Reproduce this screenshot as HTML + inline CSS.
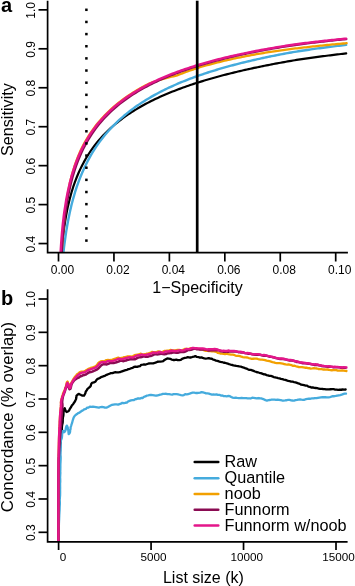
<!DOCTYPE html><html><head><meta charset="utf-8"><style>html,body{margin:0;padding:0;background:#fff;}svg{display:block;will-change:transform;}</style></head><body><svg width="355" height="586" viewBox="0 0 355 586">
<defs><clipPath id="ca"><rect x="47.6" y="0.7" width="300.3" height="252"/></clipPath><clipPath id="cb"><rect x="47.6" y="289.2" width="300" height="252.7"/></clipPath></defs>
<rect width="355" height="586" fill="#fff"/>
<g clip-path="url(#ca)" fill="none" stroke-linejoin="round" stroke-linecap="round">
<polyline points="61.40,253.98 61.55,251.99 61.72,249.97 61.89,247.94 62.08,245.88 62.27,243.81 62.48,241.71 62.70,239.59 62.94,237.45 63.19,235.29 63.45,233.11 63.73,230.91 64.02,228.69 64.34,226.45 66.11,215.50 67.88,206.63 69.66,199.16 71.43,192.69 73.20,186.98 74.97,181.87 76.75,177.25 78.52,173.02 80.29,169.12 82.07,165.51 83.84,162.15 85.61,159.00 87.38,156.05 89.16,153.26 90.93,150.62 92.70,148.11 94.47,145.73 96.25,143.46 98.02,141.29 99.79,139.22 101.57,137.23 103.34,135.31 105.11,133.48 106.88,131.71 108.66,130.00 110.43,128.36 112.20,126.76 113.97,125.23 115.75,123.74 117.52,122.29 119.29,120.89 121.06,119.53 122.84,118.21 124.61,116.93 126.38,115.68 128.16,114.46 129.93,113.28 131.70,112.13 133.47,111.00 135.25,109.90 137.02,108.83 138.79,107.79 140.56,106.77 142.34,105.77 144.11,104.79 145.88,103.84 147.66,102.90 149.43,101.99 151.20,101.09 152.97,100.21 154.75,99.35 156.52,98.51 158.29,97.68 160.06,96.87 161.84,96.08 163.61,95.30 165.38,94.53 167.16,93.78 168.93,93.04 170.70,92.31 172.47,91.60 174.25,90.90 176.02,90.21 177.79,89.53 179.56,88.86 181.34,88.20 183.11,87.56 184.88,86.92 186.66,86.30 188.43,85.68 190.20,85.08 191.97,84.48 193.75,83.89 195.52,83.31 197.29,82.74 199.06,82.18 200.84,81.62 202.61,81.08 204.38,80.54 206.16,80.00 207.93,79.48 209.70,78.96 211.47,78.45 213.25,77.95 215.02,77.45 216.79,76.96 218.56,76.48 220.34,76.00 222.11,75.53 223.88,75.06 225.66,74.60 227.43,74.15 229.20,73.70 230.97,73.26 232.75,72.82 234.52,72.39 236.29,71.96 238.06,71.54 239.84,71.12 241.61,70.71 243.38,70.30 245.16,69.90 246.93,69.50 248.70,69.11 250.47,68.72 252.25,68.33 254.02,67.95 255.79,67.58 257.56,67.21 259.34,66.84 261.11,66.47 262.88,66.11 264.66,65.76 266.43,65.40 268.20,65.05 269.97,64.71 271.75,64.37 273.52,64.03 275.29,63.69 277.06,63.36 278.84,63.03 280.61,62.71 282.38,62.38 284.15,62.07 285.93,61.75 287.70,61.44 289.47,61.13 291.25,60.82 293.02,60.52 294.79,60.22 296.56,59.94 298.34,59.68 300.11,59.41 301.88,59.15 303.65,58.89 305.43,58.64 307.20,58.38 308.97,58.13 310.75,57.88 312.52,57.63 314.29,57.39 316.06,57.15 317.84,56.91 319.61,56.67 321.38,56.44 323.15,56.21 324.93,55.98 326.70,55.75 328.47,55.52 330.25,55.30 332.02,55.08 333.79,54.86 335.56,54.64 337.34,54.43 339.11,54.22 340.88,54.00 342.65,53.80 344.43,53.59 346.20,53.38" stroke="#000000" stroke-width="2.2"/>
<polyline points="63.19,254.89 63.45,252.41 63.73,249.89 64.02,247.34 64.34,244.76 66.11,232.09 67.88,221.73 69.66,212.94 71.43,205.31 73.20,198.54 74.97,192.47 76.75,186.97 78.52,181.93 80.29,177.28 82.07,172.98 83.84,168.96 85.61,165.20 87.38,161.67 89.16,158.34 90.93,155.19 92.70,152.21 94.47,149.37 96.25,146.66 98.02,144.08 99.79,141.61 101.57,139.25 103.34,136.98 105.11,134.80 106.88,132.70 108.66,130.68 110.43,128.74 112.20,126.86 113.97,125.04 115.75,123.28 117.52,121.58 119.29,119.93 121.06,118.34 122.84,116.79 124.61,115.28 126.38,113.82 128.16,112.40 129.93,111.02 131.70,109.67 133.47,108.36 135.25,107.09 137.02,105.84 138.79,104.63 140.56,103.44 142.34,102.29 144.11,101.16 145.88,100.06 147.66,98.98 149.43,97.92 151.20,96.89 152.97,95.88 154.75,94.90 156.52,93.93 158.29,92.99 160.06,92.06 161.84,91.15 163.61,90.26 165.38,89.39 167.16,88.53 168.93,87.69 170.70,86.87 172.47,86.06 174.25,85.27 176.02,84.49 177.79,83.72 179.56,82.97 181.34,82.23 183.11,81.50 184.88,80.79 186.66,80.09 188.43,79.40 190.20,78.72 191.97,78.06 193.75,77.40 195.52,76.75 197.29,76.12 199.06,75.49 200.84,74.88 202.61,74.27 204.38,73.68 206.16,73.09 207.93,72.51 209.70,71.94 211.47,71.38 213.25,70.82 215.02,70.28 216.79,69.74 218.56,69.21 220.34,68.69 222.11,68.17 223.88,67.66 225.66,67.16 227.43,66.67 229.20,66.18 230.97,65.70 232.75,65.23 234.52,64.76 236.29,64.30 238.06,63.84 239.84,63.39 241.61,62.95 243.38,62.51 245.16,62.08 246.93,61.65 248.70,61.23 250.47,60.81 252.25,60.40 254.02,59.99 255.79,59.59 257.56,59.19 259.34,58.80 261.11,58.42 262.88,58.03 264.66,57.65 266.43,57.28 268.20,56.91 269.97,56.55 271.75,56.19 273.52,55.83 275.29,55.48 277.06,55.13 278.84,54.78 280.61,54.44 282.38,54.11 284.15,53.77 285.93,53.44 287.70,53.12 289.47,52.79 291.25,52.48 293.02,52.16 294.79,51.85 296.56,51.56 298.34,51.29 300.11,51.01 301.88,50.74 303.65,50.47 305.43,50.21 307.20,49.95 308.97,49.69 310.75,49.43 312.52,49.18 314.29,48.93 316.06,48.68 317.84,48.43 319.61,48.19 321.38,47.95 323.15,47.72 324.93,47.48 326.70,47.25 328.47,47.02 330.25,46.79 332.02,46.57 333.79,46.35 335.56,46.13 337.34,45.91 339.11,45.70 340.88,45.49 342.65,45.28 344.43,45.07 346.20,44.86" stroke="#45ABDD" stroke-width="2.4"/>
<polyline points="61.61,255.55 61.70,253.69 61.80,251.81 61.90,249.90 62.01,247.98 62.13,246.03 62.25,244.06 62.38,242.06 62.52,240.05 62.67,238.01 62.83,235.94 62.99,233.86 63.17,231.75 63.36,229.62 63.55,227.47 63.76,225.30 63.98,223.10 64.22,220.88 64.47,218.64 64.73,216.38 65.01,214.09 65.27,211.79 66.75,200.44 68.23,191.23 69.71,183.43 71.37,176.70 73.06,170.75 74.76,165.43 76.46,160.60 78.17,156.18 79.88,152.11 81.66,148.36 83.44,144.87 85.22,141.61 87.00,138.55 88.78,135.66 90.56,132.93 92.34,130.35 94.12,127.89 95.90,125.55 97.68,123.32 99.46,121.19 101.24,119.14 103.02,117.18 104.80,115.30 106.58,113.49 108.36,111.75 110.14,110.07 111.92,108.45 113.70,106.88 115.47,105.37 117.25,103.90 119.03,102.48 120.81,101.11 122.59,99.77 124.37,98.48 126.14,97.22 127.92,96.00 129.70,94.81 131.48,93.65 133.26,92.52 135.03,91.43 136.81,90.36 138.59,89.31 140.36,88.29 142.14,87.30 143.92,86.33 145.69,85.38 147.47,84.46 149.25,83.55 151.09,82.80 152.96,82.14 154.83,81.49 156.70,80.87 158.56,80.26 160.42,79.68 162.28,79.10 164.13,78.55 165.99,78.03 167.86,77.58 169.74,77.14 171.61,76.72 173.48,76.31 175.34,75.92 177.13,75.36 178.87,74.67 180.62,73.99 182.36,73.33 184.10,72.68 185.85,72.03 187.59,71.40 189.34,70.78 191.09,70.16 192.84,69.56 194.58,68.97 196.33,68.38 198.08,67.80 199.84,67.26 201.61,66.75 203.37,66.24 205.14,65.74 206.90,65.25 208.67,64.77 210.43,64.30 212.20,63.83 213.96,63.37 215.73,62.91 217.50,62.47 219.26,62.03 221.03,61.59 222.79,61.16 224.56,60.74 226.33,60.32 228.09,59.91 229.86,59.51 231.63,59.12 233.40,58.74 235.17,58.36 236.94,57.99 238.71,57.63 240.48,57.27 242.25,56.91 244.02,56.56 245.79,56.21 247.56,55.87 249.33,55.54 251.10,55.20 252.86,54.88 254.63,54.55 256.40,54.24 258.17,53.92 259.94,53.61 261.72,53.31 263.49,53.03 265.26,52.74 267.04,52.47 268.81,52.19 270.58,51.92 272.35,51.65 274.13,51.39 275.90,51.13 277.67,50.87 279.44,50.62 281.22,50.36 282.99,50.12 284.76,49.87 286.53,49.63 288.31,49.39 290.08,49.16 291.85,48.93 293.62,48.70 295.39,48.48 297.17,48.28 298.94,48.09 300.71,47.90 302.48,47.69 304.25,47.48 306.02,47.27 307.79,47.07 309.55,46.87 311.32,46.67 313.09,46.48 314.86,46.28 316.63,46.09 318.40,45.90 320.17,45.72 321.94,45.53 323.71,45.35 325.48,45.17 327.25,44.99 329.01,44.82 330.78,44.65 332.55,44.48 334.32,44.31 336.09,44.14 337.86,43.98 339.63,43.81 341.40,43.65 343.17,43.49 344.94,43.34 346.71,43.17" stroke="#F2A000" stroke-width="2.3"/>
<polyline points="61.63,255.55 61.72,253.69 61.83,251.81 61.94,249.91 62.05,247.98 62.18,246.03 62.31,244.06 62.45,242.07 62.59,240.05 62.75,238.01 62.91,235.95 63.09,233.87 63.27,231.76 63.47,229.63 63.68,227.48 63.90,225.31 64.13,223.12 64.38,220.90 64.64,218.66 64.92,216.40 65.21,214.12 65.52,211.83 67.29,200.54 69.06,191.40 70.82,183.70 72.58,177.04 74.35,171.16 76.11,165.90 77.87,161.14 79.63,156.79 81.38,152.79 83.14,149.09 84.90,145.64 86.66,142.42 88.41,139.39 90.17,136.54 91.93,133.85 93.68,131.29 95.44,128.87 97.19,126.56 98.95,124.35 100.71,122.25 102.46,120.22 104.21,118.28 105.96,116.42 107.71,114.63 109.47,112.90 111.22,111.23 112.97,109.62 114.73,108.07 116.48,106.57 118.23,105.11 119.99,103.70 121.74,102.33 123.50,101.01 125.26,99.72 127.01,98.46 128.77,97.25 130.53,96.06 132.29,94.91 134.04,93.78 135.80,92.69 137.56,91.62 139.32,90.58 141.08,89.56 142.84,88.57 144.60,87.60 146.36,86.65 148.12,85.72 149.89,84.82 151.65,83.93 153.41,83.06 155.17,82.21 156.93,81.38 158.70,80.56 160.46,79.77 162.22,78.98 163.99,78.22 165.75,77.46 167.52,76.73 169.28,76.00 171.04,75.29 172.81,74.59 174.57,73.91 176.34,73.24 178.10,72.58 179.87,71.93 181.64,71.29 183.40,70.66 185.17,70.04 186.93,69.44 188.70,68.84 190.47,68.26 192.23,67.68 194.00,67.11 195.77,66.55 197.54,66.00 199.30,65.46 201.07,64.93 202.84,64.40 204.61,63.89 206.37,63.38 208.14,62.88 209.91,62.38 211.68,61.90 213.45,61.42 215.21,60.94 216.98,60.48 218.75,60.02 220.52,59.56 222.29,59.12 224.06,58.67 225.83,58.24 227.59,57.81 229.36,57.39 231.13,56.97 232.90,56.56 234.67,56.15 236.44,55.75 238.21,55.35 239.98,54.96 241.75,54.58 243.52,54.20 245.29,53.82 247.06,53.45 248.83,53.08 250.60,52.72 252.37,52.36 254.14,52.00 255.91,51.65 257.68,51.31 259.45,50.97 261.22,50.63 262.99,50.30 264.76,49.98 266.53,49.66 268.30,49.34 270.07,49.03 271.85,48.72 273.62,48.41 275.39,48.11 277.16,47.81 278.93,47.51 280.70,47.22 282.47,46.93 284.25,46.64 286.02,46.36 287.79,46.08 289.56,45.80 291.33,45.53 293.10,45.26 294.87,44.99 296.65,44.75 298.42,44.51 300.19,44.28 301.96,44.05 303.73,43.83 305.50,43.60 307.28,43.38 309.05,43.16 310.82,42.95 312.59,42.73 314.36,42.52 316.13,42.31 317.91,42.10 319.68,41.90 321.45,41.70 323.22,41.50 324.99,41.30 326.76,41.11 328.54,40.91 330.31,40.72 332.08,40.53 333.85,40.35 335.62,40.16 337.40,39.98 339.17,39.80 340.94,39.62 342.71,39.45 344.48,39.27 346.26,39.09" stroke="#8A0B52" stroke-width="2.3"/>
<polyline points="60.43,255.49 60.53,253.63 60.63,251.74 60.74,249.84 60.86,247.91 60.98,245.95 61.11,243.98 61.25,241.98 61.40,239.96 61.55,237.92 61.72,235.85 61.89,233.77 62.08,231.66 62.27,229.52 62.48,227.37 62.70,225.19 62.94,222.99 63.19,220.76 63.45,218.52 63.73,216.25 64.02,213.96 64.34,211.65 66.11,200.33 67.88,191.16 69.66,183.42 71.43,176.71 73.20,170.80 74.97,165.50 76.75,160.71 78.52,156.32 80.29,152.29 82.07,148.56 83.84,145.08 85.61,141.83 87.38,138.78 89.16,135.90 90.93,133.18 92.70,130.60 94.47,128.15 96.25,125.82 98.02,123.60 99.79,121.47 101.57,119.43 103.34,117.48 105.11,115.60 106.88,113.80 108.66,112.06 110.43,110.38 112.20,108.77 113.97,107.20 115.75,105.69 117.52,104.23 119.29,102.82 121.06,101.44 122.84,100.11 124.61,98.82 126.38,97.56 128.16,96.34 129.93,95.15 131.70,94.00 133.47,92.87 135.25,91.78 137.02,90.71 138.79,89.66 140.56,88.65 142.34,87.66 144.11,86.69 145.88,85.74 147.66,84.81 149.43,83.91 151.20,83.02 152.97,82.16 154.75,81.31 156.52,80.48 158.29,79.67 160.06,78.88 161.84,78.10 163.61,77.33 165.38,76.58 167.16,75.85 168.93,75.13 170.70,74.42 172.47,73.73 174.25,73.05 176.02,72.38 177.79,71.72 179.56,71.08 181.34,70.44 183.11,69.82 184.88,69.21 186.66,68.61 188.43,68.02 190.20,67.44 191.97,66.86 193.75,66.30 195.52,65.75 197.29,65.20 199.06,64.67 200.84,64.14 202.61,63.62 204.38,63.11 206.16,62.61 207.93,62.11 209.70,61.62 211.47,61.14 213.25,60.67 215.02,60.20 216.79,59.74 218.56,59.28 220.34,58.84 222.11,58.40 223.88,57.96 225.66,57.53 227.43,57.11 229.20,56.69 230.97,56.28 232.75,55.87 234.52,55.47 236.29,55.08 238.06,54.69 239.84,54.30 241.61,53.92 243.38,53.55 245.16,53.18 246.93,52.81 248.70,52.45 250.47,52.09 252.25,51.74 254.02,51.39 255.79,51.05 257.56,50.71 259.34,50.38 261.11,50.04 262.88,49.72 264.66,49.39 266.43,49.08 268.20,48.76 269.97,48.45 271.75,48.14 273.52,47.83 275.29,47.53 277.06,47.24 278.84,46.94 280.61,46.65 282.38,46.36 284.15,46.08 285.93,45.80 287.70,45.52 289.47,45.24 291.25,44.97 293.02,44.70 294.79,44.43 296.56,44.20 298.34,43.96 300.11,43.73 301.88,43.51 303.65,43.28 305.43,43.06 307.20,42.84 308.97,42.62 310.75,42.41 312.52,42.20 314.29,41.99 316.06,41.78 317.84,41.58 319.61,41.37 321.38,41.17 323.15,40.98 324.93,40.78 326.70,40.59 328.47,40.40 330.25,40.21 332.02,40.02 333.79,39.84 335.56,39.65 337.34,39.47 339.11,39.29 340.88,39.12 342.65,38.94 344.43,38.77 346.20,38.60" stroke="#E4168A" stroke-width="2.4"/>
</g>
<g fill="#000"><rect x="85.15" y="8.55" width="2.5" height="2.5"/><rect x="85.15" y="20.70" width="2.5" height="2.5"/><rect x="85.15" y="32.84" width="2.5" height="2.5"/><rect x="85.15" y="44.99" width="2.5" height="2.5"/><rect x="85.15" y="57.14" width="2.5" height="2.5"/><rect x="85.15" y="69.28" width="2.5" height="2.5"/><rect x="85.15" y="81.43" width="2.5" height="2.5"/><rect x="85.15" y="93.58" width="2.5" height="2.5"/><rect x="85.15" y="105.73" width="2.5" height="2.5"/><rect x="85.15" y="117.87" width="2.5" height="2.5"/><rect x="85.15" y="130.02" width="2.5" height="2.5"/><rect x="85.15" y="142.17" width="2.5" height="2.5"/><rect x="85.15" y="154.31" width="2.5" height="2.5"/><rect x="85.15" y="166.46" width="2.5" height="2.5"/><rect x="85.15" y="178.61" width="2.5" height="2.5"/><rect x="85.15" y="190.76" width="2.5" height="2.5"/><rect x="85.15" y="202.90" width="2.5" height="2.5"/><rect x="85.15" y="215.05" width="2.5" height="2.5"/><rect x="85.15" y="227.20" width="2.5" height="2.5"/><rect x="85.15" y="239.34" width="2.5" height="2.5"/></g>
<line x1="197.2" y1="0.7" x2="197.2" y2="252.7" stroke="#000" stroke-width="2.7"/>
<g stroke="#000" stroke-width="1.7" fill="none">
<polyline points="47.6,0.7 47.6,252.7 347.9,252.7"/>
<line x1="38.5" y1="9.85" x2="47.6" y2="9.85"/>
<line x1="38.5" y1="48.80" x2="47.6" y2="48.80"/>
<line x1="38.5" y1="87.75" x2="47.6" y2="87.75"/>
<line x1="38.5" y1="126.70" x2="47.6" y2="126.70"/>
<line x1="38.5" y1="165.65" x2="47.6" y2="165.65"/>
<line x1="38.5" y1="204.60" x2="47.6" y2="204.60"/>
<line x1="38.5" y1="243.55" x2="47.6" y2="243.55"/>
<line x1="58.50" y1="252.7" x2="58.50" y2="261.5"/>
<line x1="113.94" y1="252.7" x2="113.94" y2="261.5"/>
<line x1="169.38" y1="252.7" x2="169.38" y2="261.5"/>
<line x1="224.82" y1="252.7" x2="224.82" y2="261.5"/>
<line x1="280.26" y1="252.7" x2="280.26" y2="261.5"/>
<line x1="335.70" y1="252.7" x2="335.70" y2="261.5"/>
</g>
<g font-family="Liberation Sans, sans-serif" font-size="12" fill="#000">
<text transform="translate(35,10.35) rotate(-90)" text-anchor="middle">1.0</text>
<text transform="translate(35,49.30) rotate(-90)" text-anchor="middle">0.9</text>
<text transform="translate(35,88.25) rotate(-90)" text-anchor="middle">0.8</text>
<text transform="translate(35,127.20) rotate(-90)" text-anchor="middle">0.7</text>
<text transform="translate(35,166.15) rotate(-90)" text-anchor="middle">0.6</text>
<text transform="translate(35,205.10) rotate(-90)" text-anchor="middle">0.5</text>
<text transform="translate(35,244.05) rotate(-90)" text-anchor="middle">0.4</text>
<text x="62.50" y="274.2" text-anchor="middle">0.00</text>
<text x="117.94" y="274.2" text-anchor="middle">0.02</text>
<text x="173.38" y="274.2" text-anchor="middle">0.04</text>
<text x="228.82" y="274.2" text-anchor="middle">0.06</text>
<text x="284.26" y="274.2" text-anchor="middle">0.08</text>
<text x="339.70" y="274.2" text-anchor="middle">0.10</text>
</g>
<g font-family="Liberation Sans, sans-serif" font-size="16" fill="#000">
<text x="197.5" y="293" text-anchor="middle">1−Specificity</text>
<text transform="translate(12.5,119.6) rotate(-90)" text-anchor="middle" font-size="16.2">Sensitivity</text>
</g>
<text x="1" y="11.6" font-family="Liberation Sans, sans-serif" font-size="20" font-weight="bold">a</text>
<g clip-path="url(#cb)" fill="none" stroke-linejoin="round" stroke-linecap="round">
<polyline points="58.41,541.90 58.42,540.40 58.41,538.90 58.41,537.40 58.41,535.90 58.42,534.40 58.42,532.90 58.42,531.40 58.43,529.90 58.43,528.40 58.44,526.90 58.43,525.40 58.43,523.90 58.42,522.40 58.44,520.90 58.44,519.40 58.45,517.90 58.44,516.40 58.44,514.90 58.44,513.40 58.45,511.90 58.47,510.40 58.49,508.90 58.47,507.40 58.44,505.90 58.44,504.40 58.47,502.90 58.50,501.40 58.51,499.90 58.55,498.40 58.55,496.90 58.55,495.40 58.56,493.90 58.60,492.40 58.63,490.90 58.62,489.40 58.61,487.90 58.63,486.40 58.66,484.90 58.70,483.40 58.71,481.90 58.74,480.40 58.79,478.90 58.83,477.40 58.88,475.90 58.94,474.40 58.98,472.91 59.05,471.41 59.12,469.91 59.20,468.41 59.22,466.91 59.28,465.41 59.32,463.91 59.43,462.41 59.44,460.91 59.55,459.42 59.59,457.92 59.65,456.42 59.68,454.92 59.76,453.42 59.91,451.93 59.98,450.43 60.02,448.93 60.12,447.43 60.24,445.93 60.42,444.44 60.56,442.95 60.60,441.45 60.72,439.95 60.86,438.46 61.08,436.97 61.15,435.47 61.27,433.98 61.46,432.49 61.75,431.01 61.83,429.51 61.86,428.01 61.95,426.51 62.13,425.02 62.51,423.55 62.72,422.07 62.78,420.56 62.74,419.05 62.94,417.57 63.29,416.09 63.46,414.60 63.49,413.10 63.60,411.60 63.88,410.13 64.18,408.71 64.65,408.16 65.13,409.47 65.74,410.84 66.62,412.03 67.97,411.45 69.05,410.53 69.70,409.23 70.51,407.98 71.27,406.68 71.94,405.32 73.09,404.27 73.80,402.94 74.74,401.73 75.43,400.37 76.08,399.01 76.34,397.51 76.48,395.89 77.52,394.73 78.69,393.81 79.90,394.43 81.22,395.09 82.54,395.60 84.04,395.63 84.83,394.26 85.45,392.90 85.82,391.39 86.79,390.23 87.51,388.88 88.73,387.94 89.90,386.97 90.79,385.76 91.16,384.08 91.99,382.78 93.84,382.47 95.21,381.81 96.10,380.54 97.10,379.29 98.42,378.57 99.83,378.01 101.02,377.04 102.54,376.69 103.89,376.04 105.33,375.58 106.65,374.85 108.06,374.29 109.47,373.75 110.89,373.18 112.42,373.10 113.84,372.58 115.30,372.24 116.85,372.32 118.38,372.28 119.91,372.20 121.29,371.56 122.71,371.05 124.13,370.57 125.56,370.10 127.04,369.83 128.40,369.15 129.87,368.83 131.25,368.19 132.70,367.81 134.03,366.97 135.49,366.62 137.12,366.89 138.54,366.42 140.03,366.15 141.21,364.83 142.74,364.71 144.23,364.49 145.81,364.55 147.22,364.01 148.63,363.48 150.14,363.34 151.67,363.29 153.21,363.38 154.64,362.97 156.05,362.42 157.47,361.75 158.95,361.53 160.46,361.53 161.95,361.34 163.42,361.01 164.51,359.93 165.80,359.17 167.21,358.45 168.78,358.64 170.27,358.91 171.69,359.55 173.17,360.02 174.68,360.00 176.20,359.56 177.70,360.10 179.24,360.19 180.78,359.96 182.10,358.86 183.48,358.30 184.90,357.78 186.41,357.57 187.87,357.13 189.45,357.50 190.94,357.52 192.41,356.96 193.90,356.67 195.41,356.11 196.92,356.91 198.41,357.06 199.86,357.66 201.40,357.38 202.85,357.88 204.30,358.34 205.78,358.53 207.30,358.46 208.87,358.19 210.30,358.70 211.84,358.77 213.14,359.68 214.63,359.97 215.99,360.63 217.49,360.85 218.90,361.38 220.33,361.82 221.83,362.03 223.24,362.53 224.74,362.76 226.18,363.17 227.63,363.54 229.04,364.07 230.47,364.52 231.93,364.85 233.35,365.37 234.84,365.61 236.30,365.96 237.82,366.03 239.29,366.35 240.80,366.55 242.18,367.19 243.65,367.53 245.05,368.09 246.48,368.54 247.81,369.29 249.22,369.82 250.78,369.86 252.21,370.33 253.59,370.91 254.99,371.48 256.39,372.00 257.87,372.29 259.29,372.79 260.76,373.10 262.17,373.61 263.55,374.25 265.07,374.37 266.42,375.10 267.91,375.36 269.35,375.77 270.86,375.96 272.29,376.38 273.66,377.08 275.15,377.30 276.59,377.73 278.05,378.10 279.51,378.41 280.93,378.91 282.41,379.18 283.87,379.55 285.34,379.84 286.75,380.38 288.17,380.88 289.66,381.12 291.10,381.54 292.61,381.69 294.07,382.07 295.54,382.38 296.97,382.86 298.36,383.45 299.80,383.87 301.13,384.65 302.61,384.93 304.08,385.24 305.55,385.55 307.06,385.69 308.36,386.65 309.86,386.86 311.25,387.48 312.80,387.47 314.24,387.87 315.75,387.98 317.23,388.18 318.70,388.52 320.16,388.90 321.67,388.92 323.17,389.01 324.67,389.06 326.15,389.29 327.65,389.34 329.15,389.45 330.66,389.23 332.16,389.20 333.65,389.21 335.15,389.59 336.65,389.65 338.15,389.89 339.65,389.75 341.15,389.75 342.65,389.51 344.15,389.56 345.65,389.50" stroke="#000000" stroke-width="2.3"/>
<polyline points="58.40,541.90 58.44,540.40 58.45,538.90 58.52,537.40 58.58,535.90 58.65,534.40 58.68,532.90 58.71,531.40 58.75,529.91 58.80,528.41 58.84,526.91 58.89,525.41 58.90,523.91 58.97,522.41 59.03,520.91 59.12,519.41 59.16,517.91 59.24,516.41 59.27,514.91 59.38,513.42 59.45,511.92 59.56,510.42 59.62,508.92 59.64,507.42 59.72,505.93 59.84,504.43 59.86,502.93 59.81,501.43 59.70,499.92 59.84,498.43 59.94,496.93 60.08,495.43 60.10,493.93 60.13,492.43 60.12,490.93 60.10,489.43 60.15,487.93 60.10,486.43 60.10,484.93 60.09,483.43 60.24,481.93 60.24,480.43 60.20,478.93 60.10,477.43 60.20,475.93 60.25,474.43 60.36,472.93 60.24,471.43 60.33,469.93 60.34,468.43 60.38,466.93 60.35,465.43 60.39,463.93 60.49,462.43 60.55,460.93 60.64,459.43 60.68,457.94 60.64,456.43 60.49,454.93 60.54,453.43 60.58,451.93 60.65,450.43 60.65,448.93 60.74,447.44 60.73,445.93 60.69,444.43 60.56,442.92 60.79,441.43 61.04,439.94 61.68,438.54 61.95,437.06 62.08,435.56 62.16,434.06 62.33,432.57 62.54,431.05 63.51,430.85 64.12,432.23 65.07,431.35 65.65,429.92 65.81,428.41 66.11,426.93 66.78,425.58 67.44,426.65 67.72,428.12 68.08,429.58 68.41,431.05 68.51,432.55 68.70,434.08 69.54,433.40 70.09,431.96 70.12,430.43 70.58,429.00 70.58,427.45 71.08,426.03 71.49,424.59 72.01,423.18 72.39,421.72 72.77,420.25 73.24,418.81 73.73,417.33 74.59,416.04 75.64,414.92 76.97,414.05 78.12,413.11 79.50,412.58 80.61,411.74 81.80,410.87 83.10,410.16 84.36,409.27 85.87,408.98 86.97,407.72 88.51,407.59 89.86,406.54 91.43,406.87 92.93,406.65 94.44,406.89 95.95,407.10 97.44,407.37 98.93,407.69 100.44,407.04 101.97,406.96 103.44,407.16 104.92,407.65 106.48,407.62 107.88,407.00 109.20,406.20 110.56,405.45 111.97,404.90 113.43,404.53 114.91,404.29 116.50,404.47 118.09,404.62 119.49,404.06 120.94,403.66 122.28,402.84 123.92,403.24 125.34,402.73 126.86,402.61 128.12,401.46 129.52,400.89 130.94,400.42 132.42,400.16 133.95,400.03 135.26,399.17 136.77,399.00 138.12,398.27 139.80,398.65 141.17,397.99 142.75,398.00 143.93,396.78 145.41,396.48 146.71,395.57 148.23,395.41 149.70,395.01 151.23,394.97 152.74,395.09 154.24,395.27 155.73,395.55 157.23,395.52 158.74,395.05 160.18,394.65 161.59,394.39 162.98,393.78 164.58,393.87 166.11,393.77 167.62,394.17 169.12,394.21 170.62,394.42 172.12,394.55 173.62,394.14 175.13,394.10 176.63,394.21 178.12,394.37 179.57,394.74 180.98,395.20 182.44,395.43 183.85,395.03 185.13,394.23 186.76,394.37 188.23,394.06 189.68,393.74 191.08,393.06 192.55,392.69 194.07,392.67 195.61,393.00 197.11,393.00 198.59,392.92 200.07,392.71 201.60,392.22 203.09,392.49 204.58,392.76 206.00,393.37 207.51,393.41 209.00,393.59 210.43,394.22 211.89,394.61 213.42,394.49 214.92,394.61 216.46,394.42 217.90,394.95 219.44,394.78 220.85,395.54 222.37,395.50 223.80,396.09 225.29,396.20 226.80,396.29 228.40,395.97 229.89,396.16 231.24,397.02 232.66,397.65 234.15,397.90 235.67,397.74 237.16,397.93 238.66,398.04 240.16,398.16 241.67,397.86 243.17,398.02 244.67,398.22 246.17,398.17 247.66,398.39 249.16,398.29 250.65,398.48 252.18,397.77 253.68,397.81 255.17,398.06 256.66,398.37 258.18,398.02 259.67,398.25 261.17,398.40 262.63,398.85 264.06,399.40 265.47,400.12 266.95,400.57 268.53,400.15 270.05,400.00 271.58,399.53 273.07,399.71 274.58,399.54 276.07,399.79 277.58,399.56 279.07,399.84 280.56,400.13 282.05,400.48 283.54,400.57 285.05,400.45 286.55,400.25 288.06,399.84 289.55,399.94 291.05,400.27 292.55,400.51 294.06,400.59 295.53,400.14 297.01,399.92 298.49,399.54 299.98,399.40 301.51,399.65 303.03,399.79 304.53,399.74 305.99,399.20 307.47,398.92 308.95,398.69 310.47,398.75 311.94,398.42 313.45,398.45 314.92,398.08 316.43,398.07 317.90,397.78 319.39,397.55 320.87,397.32 322.36,397.24 323.87,397.25 325.38,397.21 326.91,397.33 328.42,397.28 329.90,397.01 331.36,396.67 332.81,396.22 334.33,396.24 335.81,395.98 337.28,395.64 338.74,395.30 340.23,395.09 341.67,394.64 343.10,394.14 344.52,393.66 346.07,393.72" stroke="#45ABDD" stroke-width="2.3"/>
<polyline points="58.38,541.90 58.38,540.40 58.39,538.90 58.42,537.40 58.42,535.90 58.41,534.40 58.40,532.90 58.41,531.40 58.43,529.90 58.44,528.40 58.42,526.90 58.40,525.40 58.41,523.90 58.43,522.40 58.42,520.90 58.41,519.40 58.39,517.90 58.41,516.40 58.40,514.90 58.41,513.40 58.42,511.90 58.43,510.40 58.43,508.90 58.43,507.40 58.44,505.90 58.43,504.40 58.43,502.90 58.41,501.40 58.43,499.90 58.42,498.40 58.43,496.90 58.43,495.40 58.44,493.90 58.44,492.40 58.43,490.90 58.43,489.40 58.43,487.90 58.44,486.40 58.44,484.90 58.47,483.40 58.47,481.90 58.47,480.40 58.46,478.90 58.45,477.40 58.47,475.90 58.47,474.40 58.47,472.90 58.47,471.40 58.47,469.90 58.51,468.40 58.51,466.90 58.53,465.40 58.51,463.90 58.53,462.40 58.52,460.90 58.56,459.40 58.58,457.90 58.64,456.40 58.65,454.90 58.67,453.40 58.68,451.90 58.69,450.40 58.71,448.90 58.75,447.40 58.79,445.90 58.84,444.40 58.85,442.90 58.91,441.40 58.95,439.90 59.00,438.41 59.05,436.91 59.12,435.41 59.17,433.91 59.25,432.41 59.28,430.91 59.33,429.41 59.34,427.91 59.48,426.41 59.58,424.92 59.67,423.42 59.67,421.92 59.78,420.42 59.86,418.92 59.94,417.43 60.04,415.93 60.13,414.43 60.28,412.94 60.35,411.44 60.50,409.95 60.62,408.45 60.82,406.96 60.94,405.47 60.99,403.97 60.91,402.45 61.08,400.96 61.32,399.47 61.72,398.01 62.07,396.55 62.58,395.13 63.02,393.69 63.58,392.30 64.22,390.95 64.76,389.55 65.22,388.13 65.77,386.72 66.23,385.29 66.43,383.79 66.83,382.37 67.57,381.51 68.08,382.86 68.69,384.22 69.15,385.65 69.76,387.03 70.32,385.71 70.61,384.24 71.24,382.87 72.06,381.57 72.75,380.24 73.45,378.93 74.31,377.74 75.10,376.51 76.16,375.48 77.05,374.18 78.36,373.41 79.52,372.38 80.93,371.74 82.50,371.57 83.99,371.31 85.36,370.72 86.61,369.89 87.91,369.14 89.24,368.57 90.57,367.97 92.01,367.52 93.51,367.16 94.94,366.55 96.26,365.68 97.30,364.49 98.19,363.19 99.34,362.22 100.63,361.43 102.15,361.18 103.67,361.28 105.04,360.81 106.44,360.04 107.95,359.98 109.48,360.10 110.98,360.00 112.45,359.62 113.89,359.12 115.34,358.69 116.75,357.99 118.21,357.62 119.83,358.31 121.30,357.97 122.79,357.80 124.19,357.07 125.69,356.93 127.14,356.51 128.64,356.38 130.18,356.50 131.73,356.63 133.15,356.05 134.52,355.20 135.97,354.79 137.45,354.57 138.95,354.43 140.36,353.73 141.95,354.15 143.49,354.30 145.00,354.25 146.45,353.77 147.95,353.65 149.37,353.07 150.79,352.47 152.19,351.80 153.80,352.25 155.29,352.08 156.78,351.86 158.23,351.44 159.78,351.69 161.32,352.06 162.79,351.79 164.21,350.99 165.72,350.99 167.20,350.76 168.71,350.73 170.16,350.01 171.68,350.24 173.20,350.51 174.70,350.51 176.18,350.12 177.67,349.92 179.16,349.79 180.71,350.28 182.20,350.04 183.66,349.56 185.10,348.80 186.62,348.97 188.13,349.00 189.60,348.64 191.06,348.09 192.57,348.07 194.11,348.65 195.61,348.58 197.08,348.84 198.58,348.96 200.05,349.25 201.56,349.31 203.00,349.75 204.40,350.48 205.84,350.94 207.37,350.92 208.86,351.06 210.37,351.14 211.86,351.32 213.41,351.21 214.88,351.53 216.35,351.81 217.69,352.79 219.17,353.04 220.59,353.57 222.12,353.58 223.60,353.85 225.07,354.11 226.67,353.73 228.14,354.07 229.62,354.29 231.10,354.53 232.62,354.58 234.08,354.91 235.48,355.59 236.95,355.89 238.47,355.90 239.96,356.11 241.38,356.70 242.83,357.10 244.30,357.38 245.83,357.36 247.32,357.50 248.76,358.02 250.21,358.43 251.68,358.78 253.20,358.73 254.73,358.65 256.25,358.63 257.72,358.99 259.16,359.47 260.65,359.68 262.19,359.54 263.67,359.80 265.13,360.17 266.57,360.66 268.05,360.86 269.51,361.23 270.97,361.61 272.41,362.09 273.87,362.46 275.31,362.89 276.79,363.12 278.31,363.16 279.83,363.19 281.31,363.40 282.79,363.67 284.25,364.04 285.70,364.41 287.19,364.60 288.74,364.49 290.21,364.77 291.66,365.17 293.06,365.85 294.62,365.71 296.04,366.27 297.50,366.57 298.93,367.07 300.47,367.04 301.96,367.23 303.44,367.49 304.92,367.73 306.42,367.72 307.89,368.10 309.38,368.25 310.87,368.54 312.38,368.46 313.90,368.21 315.39,368.41 316.89,368.50 318.35,368.99 319.85,369.08 321.35,369.15 322.82,369.48 324.33,369.51 325.82,369.65 327.33,369.51 328.82,369.75 330.30,370.10 331.79,370.24 333.30,370.07 334.80,370.20 336.30,370.20 337.78,370.66 339.29,370.55 340.78,370.66 342.29,370.44 343.79,370.57 345.28,370.85 346.78,370.99" stroke="#F2A000" stroke-width="2.3"/>
<polyline points="58.38,541.90 58.38,540.40 58.39,538.90 58.41,537.40 58.42,535.90 58.41,534.40 58.39,532.90 58.39,531.40 58.41,529.90 58.42,528.40 58.40,526.90 58.38,525.40 58.39,523.90 58.40,522.40 58.39,520.90 58.38,519.40 58.37,517.90 58.37,516.40 58.37,514.90 58.37,513.40 58.38,511.90 58.39,510.40 58.39,508.90 58.39,507.40 58.39,505.90 58.38,504.40 58.38,502.90 58.36,501.40 58.38,499.90 58.37,498.40 58.38,496.90 58.38,495.40 58.39,493.90 58.39,492.40 58.38,490.90 58.38,489.40 58.38,487.90 58.39,486.40 58.39,484.90 58.42,483.40 58.43,481.90 58.43,480.40 58.43,478.90 58.42,477.40 58.44,475.90 58.45,474.40 58.45,472.90 58.46,471.40 58.47,469.90 58.52,468.40 58.53,466.90 58.57,465.40 58.57,463.90 58.61,462.40 58.63,460.90 58.70,459.40 58.77,457.90 58.88,456.41 58.94,454.91 59.04,453.41 59.10,451.91 59.17,450.42 59.25,448.92 59.37,447.42 59.47,445.93 59.57,444.43 59.62,442.93 59.75,441.43 59.84,439.94 59.95,438.44 60.05,436.94 60.19,435.45 60.28,433.95 60.44,432.46 60.50,430.96 60.60,429.46 60.59,427.96 60.85,426.48 61.02,424.98 61.16,423.49 61.13,421.98 61.30,420.49 61.41,419.00 61.51,417.50 61.64,416.01 61.74,414.51 61.93,413.02 61.97,411.52 62.13,410.03 62.23,408.53 62.41,407.04 62.45,405.54 62.39,404.03 62.14,402.52 62.23,401.02 62.40,399.53 62.69,398.04 62.94,396.56 63.43,395.13 63.96,393.72 64.51,392.35 65.01,390.94 65.40,389.50 65.82,388.06 66.41,386.66 66.94,385.28 67.29,383.94 68.00,385.00 68.54,386.38 68.86,387.85 69.48,389.26 70.36,388.81 70.89,387.40 71.16,385.90 71.53,384.43 72.21,383.08 73.12,381.84 73.94,380.60 74.94,379.54 76.20,378.83 77.42,378.05 78.82,377.56 80.04,376.53 81.47,376.03 82.84,375.33 84.23,374.98 85.66,374.61 86.91,373.79 88.11,372.89 89.46,372.25 90.94,371.94 92.44,371.61 93.80,370.94 95.21,370.31 96.68,369.69 97.91,368.77 99.00,367.77 100.03,366.67 101.02,365.47 102.30,364.66 103.74,364.18 105.31,364.23 106.87,364.44 108.29,363.94 109.65,363.09 111.15,362.95 112.67,363.01 114.17,362.91 115.63,362.54 117.08,362.04 118.53,361.62 119.93,360.91 121.38,360.52 123.02,361.17 124.48,360.80 125.97,360.60 127.35,359.84 128.84,359.67 130.29,359.23 131.78,359.07 133.33,359.15 134.88,359.24 136.29,358.65 137.64,357.79 139.09,357.37 140.58,357.14 142.07,356.99 143.46,356.26 145.06,356.64 146.61,356.74 148.11,356.63 149.54,356.10 151.03,355.92 152.44,355.29 153.84,354.65 155.24,353.95 156.85,354.39 158.35,354.23 159.83,354.03 161.29,353.66 162.84,353.93 164.38,354.32 165.86,354.06 167.29,353.28 168.79,353.26 170.27,353.02 171.77,352.99 173.23,352.30 174.75,352.55 176.27,352.82 177.78,352.78 179.25,352.32 180.72,351.99 182.19,351.70 183.78,351.97 185.23,351.53 186.62,350.86 187.94,349.92 189.48,349.90 190.99,349.79 192.43,349.31 193.88,348.70 195.42,348.68 196.95,349.30 198.45,349.23 199.94,349.40 201.44,349.36 202.94,349.47 204.45,349.36 205.94,349.61 207.41,350.17 208.89,350.46 210.39,350.27 211.89,350.29 213.40,350.24 214.89,350.32 216.43,350.10 217.92,350.30 219.40,350.46 220.83,351.30 222.33,351.40 223.81,351.78 225.33,351.63 226.82,351.75 228.32,351.85 229.87,351.31 231.36,351.49 232.86,351.54 234.36,351.62 235.87,351.50 237.37,351.67 238.82,352.21 240.32,352.38 241.84,352.30 243.34,352.45 244.77,353.00 246.24,353.37 247.71,353.64 249.23,353.60 250.73,353.71 252.18,354.19 253.65,354.56 255.12,354.87 256.64,354.79 258.17,354.69 259.69,354.67 261.15,355.03 262.59,355.52 264.08,355.74 265.63,355.60 267.10,355.87 268.56,356.23 270.00,356.70 271.49,356.87 272.96,357.22 274.42,357.57 275.86,358.04 277.32,358.39 278.77,358.81 280.25,359.04 281.77,359.08 283.28,359.11 284.77,359.33 286.24,359.62 287.70,360.00 289.15,360.39 290.64,360.60 292.18,360.51 293.65,360.80 295.10,361.23 296.49,361.92 298.04,361.81 299.45,362.39 300.92,362.70 302.35,363.19 303.89,363.14 305.39,363.31 306.87,363.54 308.35,363.78 309.86,363.80 311.31,364.23 312.79,364.48 314.25,364.89 315.76,364.95 317.30,364.85 318.76,365.19 320.25,365.40 321.67,365.98 323.16,366.15 324.65,366.27 326.12,366.62 327.62,366.66 329.11,366.80 330.63,366.65 332.11,366.88 333.59,367.22 335.09,367.35 336.60,367.19 338.10,367.32 339.60,367.33 341.08,367.80 342.58,367.71 344.08,367.83 345.58,367.72" stroke="#8A0B52" stroke-width="2.5"/>
<polyline points="58.38,541.90 58.38,540.40 58.39,538.90 58.42,537.40 58.42,535.90 58.41,534.40 58.40,532.90 58.41,531.40 58.43,529.90 58.44,528.40 58.42,526.90 58.40,525.40 58.41,523.90 58.43,522.40 58.42,520.90 58.41,519.40 58.39,517.90 58.41,516.40 58.40,514.90 58.41,513.40 58.42,511.90 58.43,510.40 58.43,508.90 58.43,507.40 58.44,505.90 58.43,504.40 58.43,502.90 58.41,501.40 58.43,499.90 58.42,498.40 58.43,496.90 58.43,495.40 58.44,493.90 58.44,492.40 58.43,490.90 58.43,489.40 58.43,487.90 58.44,486.40 58.44,484.90 58.47,483.40 58.47,481.90 58.47,480.40 58.46,478.90 58.45,477.40 58.47,475.90 58.47,474.40 58.47,472.90 58.47,471.40 58.47,469.90 58.51,468.40 58.51,466.90 58.53,465.40 58.51,463.90 58.53,462.40 58.52,460.90 58.56,459.40 58.58,457.90 58.64,456.40 58.65,454.90 58.67,453.40 58.68,451.90 58.69,450.40 58.71,448.90 58.75,447.40 58.79,445.90 58.84,444.40 58.85,442.90 58.91,441.40 58.95,439.90 59.00,438.41 59.05,436.91 59.12,435.41 59.16,433.91 59.24,432.41 59.27,430.91 59.33,429.41 59.33,427.91 59.48,426.41 59.58,424.92 59.67,423.42 59.67,421.92 59.79,420.42 59.88,418.92 59.97,417.43 60.07,415.93 60.17,414.43 60.32,412.94 60.40,411.44 60.56,409.95 60.69,408.46 60.90,406.97 61.02,405.47 61.08,403.97 61.01,402.45 61.21,400.96 61.50,399.48 62.01,398.05 62.50,396.63 63.03,395.22 63.51,393.80 64.08,392.41 64.66,391.04 65.10,389.61 65.52,388.17 66.07,386.76 66.57,385.35 66.79,383.87 67.40,382.72 68.08,383.91 68.51,385.34 69.04,386.74 69.61,388.13 70.48,387.31 70.71,385.79 71.06,384.32 71.70,382.95 72.55,381.67 73.29,380.37 74.06,379.11 75.08,378.06 76.02,376.93 77.15,375.98 78.15,374.77 79.47,374.03 80.69,373.04 82.17,372.55 83.73,372.52 85.15,372.08 86.39,371.24 87.60,370.36 88.95,369.73 90.38,369.36 91.77,368.81 93.19,368.26 94.70,367.87 96.11,367.14 97.31,366.13 98.27,364.93 99.21,363.70 100.41,362.77 101.76,362.08 103.31,362.04 104.84,362.29 106.27,361.88 107.69,361.12 109.19,361.05 110.72,361.14 112.22,361.03 113.69,360.66 115.13,360.15 116.58,359.72 117.99,359.01 119.44,358.64 121.07,359.30 122.53,358.95 124.02,358.76 125.41,358.00 126.90,357.84 128.35,357.39 129.84,357.24 131.39,357.33 132.94,357.43 134.35,356.83 135.70,355.97 137.15,355.54 138.64,355.31 140.14,355.16 141.54,354.45 143.13,354.86 144.68,354.99 146.18,354.92 147.62,354.42 149.12,354.27 150.54,353.67 151.95,353.05 153.34,352.36 154.95,352.79 156.45,352.62 157.93,352.39 159.38,351.99 160.93,352.25 162.48,352.62 163.95,352.35 165.37,351.56 166.88,351.55 168.36,351.32 169.86,351.27 171.31,350.55 172.83,350.79 174.35,351.05 175.85,351.04 177.33,350.64 178.82,350.41 180.31,350.24 181.87,350.67 183.35,350.37 184.80,349.83 186.20,349.01 187.72,349.11 189.23,349.08 190.69,348.65 192.10,348.00 193.62,347.88 195.19,348.41 196.68,348.26 198.17,348.41 199.67,348.38 201.17,348.49 202.68,348.38 204.17,348.63 205.64,349.19 207.12,349.47 208.63,349.28 210.13,349.27 211.63,349.21 213.13,349.28 214.66,349.06 216.15,349.26 217.64,349.44 219.05,350.32 220.55,350.45 222.01,350.87 223.53,350.75 225.02,350.92 226.51,351.06 228.08,350.56 229.56,350.78 231.06,350.88 232.56,351.00 234.07,350.92 235.56,351.12 237.01,351.68 238.50,351.86 240.02,351.78 241.52,351.92 242.96,352.46 244.42,352.82 245.90,353.09 247.42,353.05 248.92,353.17 250.37,353.66 251.83,354.04 253.31,354.34 254.83,354.26 256.35,354.15 257.87,354.11 259.34,354.46 260.79,354.93 262.28,355.13 263.82,354.99 265.30,355.25 266.76,355.61 268.20,356.09 269.69,356.27 271.15,356.62 272.61,356.98 274.06,357.44 275.52,357.79 276.97,358.21 278.45,358.43 279.97,358.47 281.48,358.49 282.97,358.70 284.44,358.98 285.90,359.35 287.35,359.74 288.84,359.95 290.39,359.85 291.86,360.15 293.30,360.57 294.70,361.26 296.25,361.15 297.66,361.72 299.13,362.03 300.56,362.53 302.10,362.50 303.59,362.68 305.06,362.95 306.54,363.20 308.05,363.24 309.50,363.68 310.98,363.92 312.44,364.32 313.95,364.36 315.49,364.23 316.96,364.56 318.45,364.77 319.87,365.35 321.36,365.55 322.85,365.70 324.30,366.10 325.81,366.17 327.29,366.34 328.81,366.21 330.29,366.46 331.77,366.80 333.26,366.94 334.78,366.78 336.27,366.92 337.77,366.93 339.25,367.41 340.75,367.32 342.25,367.44 343.76,367.25 345.26,367.39 346.75,367.56" stroke="#E4168A" stroke-width="2.4"/>
</g>
<g stroke="#000" stroke-width="1.7" fill="none">
<polyline points="47.6,289.2 47.6,541.9 347.6,541.9"/>
<line x1="38.5" y1="299.00" x2="47.6" y2="299.00"/>
<line x1="38.5" y1="332.33" x2="47.6" y2="332.33"/>
<line x1="38.5" y1="365.66" x2="47.6" y2="365.66"/>
<line x1="38.5" y1="398.99" x2="47.6" y2="398.99"/>
<line x1="38.5" y1="432.32" x2="47.6" y2="432.32"/>
<line x1="38.5" y1="465.65" x2="47.6" y2="465.65"/>
<line x1="38.5" y1="498.98" x2="47.6" y2="498.98"/>
<line x1="38.5" y1="532.31" x2="47.6" y2="532.31"/>
<line x1="58.60" y1="541.9" x2="58.60" y2="550"/>
<line x1="151.07" y1="541.9" x2="151.07" y2="550"/>
<line x1="243.54" y1="541.9" x2="243.54" y2="550"/>
<line x1="336.01" y1="541.9" x2="336.01" y2="550"/>
</g>
<g font-family="Liberation Sans, sans-serif" font-size="12" fill="#000">
<text transform="translate(35,299.40) rotate(-90)" text-anchor="middle">1.0</text>
<text transform="translate(35,332.73) rotate(-90)" text-anchor="middle">0.9</text>
<text transform="translate(35,366.06) rotate(-90)" text-anchor="middle">0.8</text>
<text transform="translate(35,399.39) rotate(-90)" text-anchor="middle">0.7</text>
<text transform="translate(35,432.72) rotate(-90)" text-anchor="middle">0.6</text>
<text transform="translate(35,466.05) rotate(-90)" text-anchor="middle">0.5</text>
<text transform="translate(35,499.38) rotate(-90)" text-anchor="middle">0.4</text>
<text transform="translate(35,532.71) rotate(-90)" text-anchor="middle">0.3</text>
<text x="63.10" y="560.6" text-anchor="middle" font-size="11.7">0</text>
<text x="153.57" y="560.6" text-anchor="middle" font-size="11.7">5000</text>
<text x="246.74" y="560.6" text-anchor="middle" font-size="11.7">10000</text>
<text x="338.51" y="560.6" text-anchor="middle" font-size="11.7">15000</text>
</g>
<g font-family="Liberation Sans, sans-serif" font-size="16" fill="#000">
<text x="203.4" y="582.8" text-anchor="middle">List size (k)</text>
<text transform="translate(12.5,417) rotate(-90)" text-anchor="middle" font-size="16.8">Concordance (% overlap)</text>
</g>
<text x="1" y="305" font-family="Liberation Sans, sans-serif" font-size="20" font-weight="bold">b</text>
<g font-family="Liberation Sans, sans-serif" font-size="16" fill="#000">
<line x1="194.7" y1="462.1" x2="218.3" y2="462.1" stroke="#000000" stroke-width="2.5" stroke-linecap="round"/>
<text x="224.6" y="467.2" font-size="16.25">Raw</text>
<line x1="194.7" y1="478.2" x2="218.3" y2="478.2" stroke="#45ABDD" stroke-width="2.5" stroke-linecap="round"/>
<text x="224.6" y="483.1" font-size="16.25">Quantile</text>
<line x1="194.7" y1="494.1" x2="218.3" y2="494.1" stroke="#F2A000" stroke-width="2.5" stroke-linecap="round"/>
<text x="224.6" y="499.1" font-size="16.25">noob</text>
<line x1="194.7" y1="509.7" x2="218.3" y2="509.7" stroke="#8A0B52" stroke-width="2.5" stroke-linecap="round"/>
<text x="224.6" y="515.0" font-size="16.25">Funnorm</text>
<line x1="194.7" y1="525.5" x2="218.3" y2="525.5" stroke="#E4168A" stroke-width="2.5" stroke-linecap="round"/>
<text x="224.6" y="531.0" font-size="16.25">Funnorm w/noob</text>
</g>
</svg></body></html>
